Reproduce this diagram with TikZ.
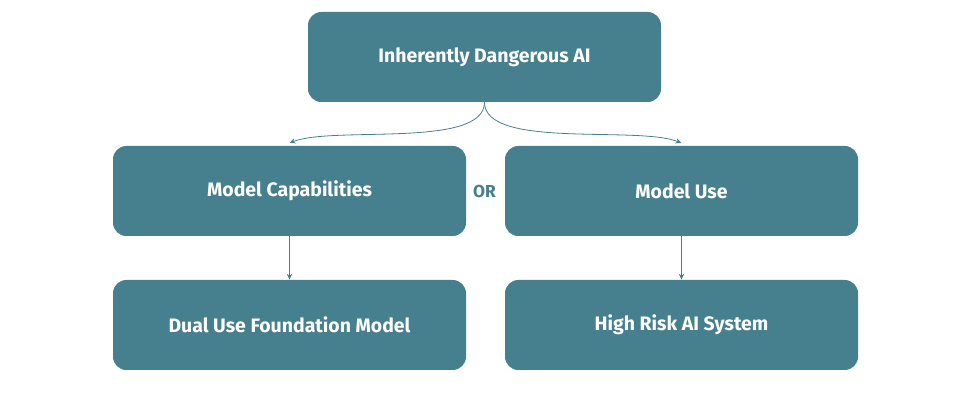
\documentclass[tikz,border=0pt]{standalone}
\usepackage{fontspec}
\setmainfont{Fira Sans}
\usetikzlibrary{arrows.meta,positioning}
\definecolor{tealbox}{RGB}{70, 128, 142}

\begin{document}
\begin{tikzpicture}[x=0.75pt, y=-0.75pt, font=\bfseries\fontsize{14.6}{17}\selectfont, >={Stealth[length=4.5pt,width=4pt]},
  box/.style={fill=tealbox, text=white, rounded corners=10pt, align=center, minimum width=264.75pt, minimum height=67.5pt, inner sep=0pt},
  link/.style={->, draw=tealbox, line width=0.6pt}]
\useasboundingbox (0,0) rectangle (960,402);
% top
\node[box] (danger) at (484.5,57) {Inherently Dangerous AI};
% middle row
\node[box] (cap) at (289.5,191) {Model Capabilities};
\node[box] (use) at (681.5,191) {Model Use};
\node[text=tealbox, font=\bfseries\fontsize{13}{15}\selectfont] (or) at (484.5,191) {OR};
% bottom row
\node[box] (dual) at (289.5,325) {Dual Use Foundation Model};
\node[box] (risk) at (681.5,325) {High Risk AI System};
% links
\draw[link] (danger.south) to[out=-90, in=22, looseness=0.6] ([yshift=2pt]cap.north);
\draw[link] (danger.south) to[out=-90, in=158, looseness=0.6] ([yshift=2pt]use.north);
\draw[link] (cap.south) -- (dual.north);
\draw[link] (use.south) -- (risk.north);
\end{tikzpicture}
\end{document}
